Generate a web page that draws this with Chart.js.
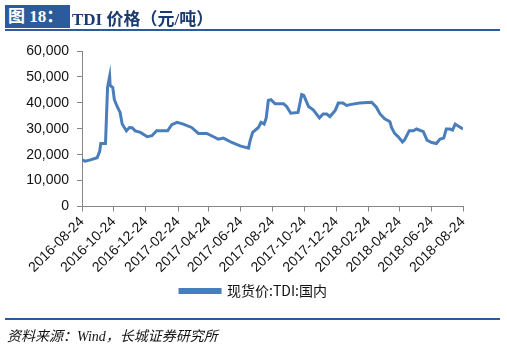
<!DOCTYPE html>
<html>
<head>
<meta charset="utf-8">
<script src="https://cdn.jsdelivr.net/npm/chart.js@4"></script>
<style>
  html, body { margin: 0; padding: 0; background: #fff; }
  body { width: 507px; height: 355px; position: relative; overflow: hidden; }
  #c { position: absolute; left: 0; top: 0; }
  .tbox { position: absolute; left: 5px; top: 5px; width: 65px; height: 23px; background: #2c5b9c; color: #fff;
          font: bold 17px "Liberation Serif", "Noto Sans CJK SC", serif; line-height: 23px; padding-left: 3px; box-sizing: border-box; }
  .ttxt { position: absolute; left: 72px; top: 5px; height: 23px; line-height: 23px; color: #1b3a70;
          font: bold 17px "Liberation Serif", "Noto Sans CJK SC", serif; }
  .hline { position: absolute; left: 5px; width: 495px; height: 2px; background: #2c5b9c; }
  .src { position: absolute; left: 7px; top: 325px; font: italic 14px "Liberation Serif", "Noto Sans CJK SC", serif; color: #111; }
</style>
</head>
<body>
<canvas id="c" width="507" height="355"></canvas>
<div class="tbox">图 18：</div>
<div class="ttxt">TDI 价格（元/吨）</div>
<div class="hline" style="top:29px"></div>
<div class="hline" style="top:318px"></div>
<div class="src">资料来源：Wind，长城证券研究所</div>
<script>
// Days since 2016-08-24 and TDI spot price (元/吨)
const startDate = "2016-08-24";
const dayOffsets = [0, 6, 16, 29, 34, 36, 45, 49, 53, 54, 59, 62, 68, 73, 77, 85, 91, 96, 102, 112, 125, 134, 143, 164, 172, 182, 194, 210, 223, 239, 252, 261, 271, 287, 303, 319, 322, 327, 338, 343, 349, 353, 357, 362, 370, 386, 392, 400, 414, 421, 425, 434, 443, 455, 462, 469, 475, 485, 491, 500, 507, 516, 532, 555, 564, 571, 580, 590, 593, 599, 606, 614, 618, 627, 635, 641, 654, 661, 670, 679, 686, 693, 698, 705, 710, 715, 723, 730];
const prices = [18000, 17500, 18000, 18800, 21400, 24300, 24300, 46000, 50200, 46700, 45900, 41200, 38300, 36300, 31800, 29200, 30500, 30400, 29200, 28600, 26900, 27300, 29200, 29200, 31600, 32500, 31800, 30500, 28200, 28200, 26900, 26000, 26400, 24700, 23400, 22500, 25300, 28600, 30500, 32500, 31800, 34200, 40900, 41200, 39600, 39600, 38600, 36000, 36300, 43200, 42900, 38600, 37300, 34200, 35700, 35700, 34700, 37000, 39900, 39900, 39000, 39400, 39900, 40200, 38300, 35700, 33800, 32700, 30500, 28200, 26900, 24900, 25700, 29200, 29200, 29900, 28900, 25600, 24700, 24300, 26000, 26400, 29900, 29900, 29500, 31800, 30800, 29900];
const tickLabels = ["2016-08-24", "2016-10-24", "2016-12-24", "2017-02-24", "2017-04-24", "2017-06-24", "2017-08-24", "2017-10-24", "2017-12-24", "2018-02-24", "2018-04-24", "2018-06-24", "2018-08-24"];
const seriesName = "现货价:TDI:国内";

const dayOf = s => (Date.parse(s + "T00:00:00Z") - Date.parse(startDate + "T00:00:00Z")) / 86400000;
const tickDays = tickLabels.map(dayOf);
const labelByDay = {};
tickLabels.forEach((l, i) => labelByDay[tickDays[i]] = l);

const points = dayOffsets.map((d, i) => ({ x: d, y: prices[i] }));
const axisColor = '#868686';
const tickFont = { family: '"Liberation Sans", "Noto Sans CJK SC", sans-serif', size: 14 };

// centre the legend on the whole canvas (not on the padded area)
const legendShift = {
  id: 'legendShift',
  afterLayout(chart) {
    const lg = chart.legend;
    if (!lg) return;
    const dx = (chart.width - (lg.right - lg.left)) / 2 - lg.left;
    lg.left += dx; lg.right += dx;
  }
};

new Chart(document.getElementById('c'), {
  type: 'line',
  data: {
    datasets: [{
      label: seriesName,
      data: points,
      borderColor: '#4a7ebb',
      backgroundColor: '#4a7ebb',
      borderWidth: 3,
      pointRadius: 0,
      tension: 0,
      fill: false
    }]
  },
  plugins: [legendShift],
  options: {
    responsive: false,
    animation: false,
    events: [],
    layout: { padding: { left: 0, right: 44, top: 51, bottom: 47 } },
    plugins: {
      tooltip: { enabled: false },
      legend: {
        position: 'bottom',
        labels: {
          boxWidth: 40, boxHeight: 3, padding: 6,
          color: '#111',
          font: { family: '"Noto Sans CJK SC", "Liberation Sans", sans-serif', size: 14 }
        }
      }
    },
    scales: {
      x: {
        type: 'linear',
        min: 0, max: tickDays[tickDays.length - 1],
        afterBuildTicks: s => { s.ticks = tickDays.map(v => ({ value: v })); },
        ticks: {
          autoSkip: false, maxRotation: 45, minRotation: 45, padding: 2,
          color: '#111', font: tickFont,
          callback: v => labelByDay[v] || ''
        },
        grid: { drawOnChartArea: false, drawTicks: true, tickLength: 5, color: axisColor },
        border: { color: axisColor, width: 1 }
      },
      y: {
        min: 0, max: 60000,
        afterFit: s => { s.width = 82; },
        ticks: {
          stepSize: 10000, padding: 8, color: '#111', font: tickFont,
          callback: v => v.toLocaleString('en-US')
        },
        grid: { drawOnChartArea: false, drawTicks: true, tickLength: 5, color: axisColor },
        border: { color: axisColor, width: 1 }
      }
    }
  }
});
</script>
</body>
</html>
